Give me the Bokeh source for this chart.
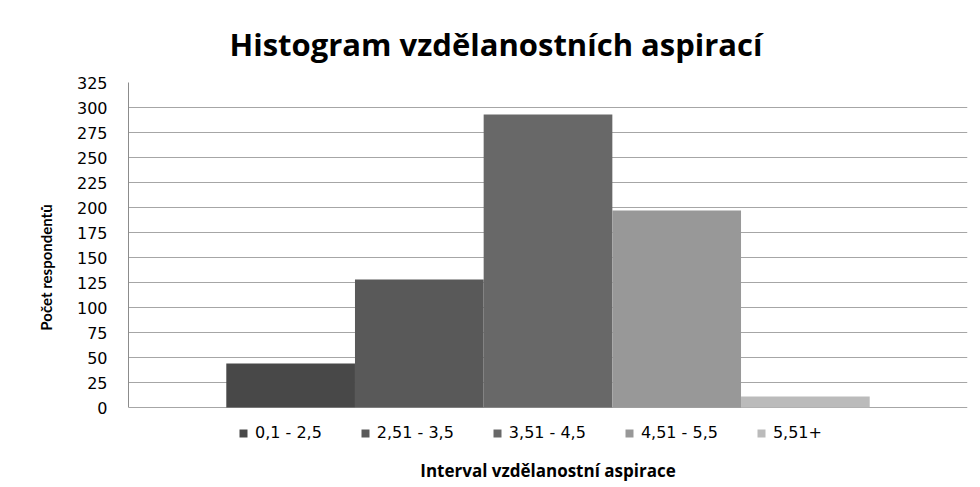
from bokeh.plotting import figure
from bokeh.models import (ColumnDataSource, Range1d, FixedTicker,
                          Legend, LegendItem)
from bokeh.embed import file_html
from bokeh.resources import INLINE

# data
categories = ["0,1 - 2,5", "2,51 - 3,5", "3,51 - 4,5", "4,51 - 5,5", "5,51+"]
counts = [44, 128, 293, 197, 11]
bar_colors = ["#484848", "#595959", "#686868", "#989898", "#bbbbbb"]
y_ticks = list(range(0, 326, 25))

positions = [i + 1 for i in range(len(categories))]
src = ColumnDataSource(dict(x=positions, cat=categories, count=counts, color=bar_colors))

p = figure(width=975, height=484, output_backend="svg", toolbar_location=None,
           x_range=Range1d(-0.26, 6.26),
           y_range=Range1d(-45, 325),
           min_border_left=128, min_border_right=8, min_border_top=82,
           min_border_bottom=32)

p.title.text = "Histogram vzdělanostních aspirací"
p.title.align = "left"
p.title.text_font = "Open Sans"
p.title.text_font_style = "bold"
p.title.text_font_size = "31px"
p.title.text_color = "#000000"
p.title.standoff = 35
p.title.offset = 101

r = p.vbar(x="x", top="count", width=1.0, bottom=0, source=src,
           fill_color="color", line_color=None)

items = [LegendItem(label=c, renderers=[r], index=i) for i, c in enumerate(categories)]
legend = Legend(items=items, orientation="horizontal", location=(110, 10),
                glyph_width=10, glyph_height=10, label_standoff=7, spacing=38,
                label_text_font="DejaVu Sans", label_text_font_size="16px",
                label_text_color="#000000", margin=0, padding=5,
                border_line_color=None, background_fill_alpha=0)
p.add_layout(legend)

p.xgrid.grid_line_color = None
p.xaxis.ticker = FixedTicker(ticks=[])
p.xaxis.major_tick_line_color = None
p.xaxis.minor_tick_line_color = None
p.xaxis.axis_line_color = None
p.xaxis.axis_label = "Interval vzdělanostní aspirace"
p.xaxis.axis_label_text_font = "Open Sans"
p.xaxis.axis_label_text_font_style = "bold"
p.xaxis.axis_label_text_font_size = "17px"
p.xaxis.axis_label_text_color = "#000000"
p.xaxis.axis_label_standoff = 6

p.yaxis.bounds = (0, 325)
p.yaxis.ticker = FixedTicker(ticks=y_ticks)
p.yaxis.major_tick_line_color = None
p.yaxis.minor_tick_line_color = None
p.yaxis.major_label_standoff = 15
p.yaxis.major_label_text_font = "DejaVu Sans"
p.yaxis.major_label_text_font_size = "16px"
p.yaxis.major_label_text_color = "#000000"
p.yaxis.axis_line_color = "#8c8c8c"
p.yaxis.axis_label = "Počet respondentů"
p.yaxis.axis_label_text_font = "Lato"
p.yaxis.axis_label_text_font_style = "bold"
p.yaxis.axis_label_text_font_size = "15px"
p.yaxis.axis_label_text_color = "#000000"
p.yaxis.axis_label_standoff = 19

p.ygrid.grid_line_color = "#a6a6a6"
p.ygrid.grid_line_width = 1
p.outline_line_color = None

open("out.html", "w").write(file_html(p, INLINE))
